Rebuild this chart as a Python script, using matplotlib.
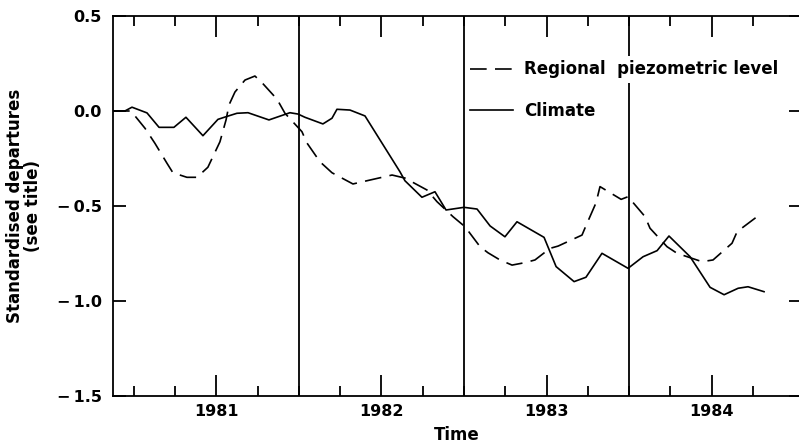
import numpy as np
import matplotlib
matplotlib.use("Agg")
import matplotlib.pyplot as plt
from matplotlib.ticker import FixedLocator, FixedFormatter

# climate series (decimal year, standardised departure)
climate_t = [1980.873, 1980.945, 1980.988, 1981.079, 1981.152, 1981.242, 1981.315,
             1981.418, 1981.509, 1981.558, 1981.624, 1981.691, 1981.818, 1981.945,
             1981.994, 1982.036, 1982.145, 1982.200, 1982.230, 1982.309, 1982.400,
             1982.612, 1982.642, 1982.745, 1982.824, 1982.891, 1983.000, 1983.079,
             1983.158, 1983.248, 1983.321, 1983.485, 1983.558, 1983.667, 1983.739,
             1983.836, 1983.994, 1984.085, 1984.170, 1984.242, 1984.370, 1984.491,
             1984.576, 1984.661, 1984.721, 1984.818]
climate_v = [0.00, 0.00, 0.02, -0.01, -0.086, -0.086, -0.033,
             -0.13, -0.044, -0.03, -0.012, -0.009, -0.047, -0.009,
             -0.016, -0.033, -0.068, -0.038, 0.009, 0.005, -0.026,
             -0.32, -0.367, -0.454, -0.425, -0.521, -0.507, -0.516,
             -0.605, -0.662, -0.583, -0.665, -0.819, -0.898, -0.875,
             -0.749, -0.828, -0.767, -0.735, -0.658, -0.767, -0.928,
             -0.967, -0.933, -0.925, -0.951]

# regional piezometric level
piezo_t = [1980.873, 1980.982, 1981.067, 1981.127, 1981.200, 1981.236, 1981.321,
           1981.382, 1981.448, 1981.521, 1981.558, 1981.576, 1981.612, 1981.673,
           1981.733, 1981.776, 1981.867, 1981.915, 1982.018, 1982.048, 1982.127,
           1982.200, 1982.327, 1982.412, 1982.564, 1982.642, 1982.776, 1982.836,
           1982.933, 1983.006, 1983.097, 1983.145, 1983.218, 1983.291, 1983.370,
           1983.430, 1983.521, 1983.570, 1983.715, 1983.733, 1983.800, 1983.824,
           1983.952, 1983.994, 1984.097, 1984.127, 1984.230, 1984.291, 1984.442,
           1984.509, 1984.624, 1984.655, 1984.776]
piezo_v = [0.00, 0.00, -0.091, -0.17, -0.275, -0.325, -0.349,
           -0.349, -0.296, -0.162, -0.047, 0.032, 0.10, 0.163,
           0.184, 0.149, 0.062, -0.012, -0.109, -0.168, -0.267,
           -0.325, -0.384, -0.367, -0.337, -0.353, -0.416, -0.477,
           -0.556, -0.609, -0.714, -0.746, -0.784, -0.811, -0.798,
           -0.784, -0.723, -0.711, -0.653, -0.616, -0.483, -0.398,
           -0.465, -0.451, -0.556, -0.617, -0.714, -0.749, -0.793,
           -0.784, -0.696, -0.635, -0.556]

year_labels = ["1981", "1982", "1983", "1984"]
year_centres = [1981.5, 1982.5, 1983.5, 1984.5]
year_bounds = [1982.0, 1983.0, 1984.0]
quarters = [1981.0, 1981.25, 1981.75, 1982.0, 1982.25, 1982.75, 1983.0,
            1983.25, 1983.75, 1984.0, 1984.25, 1984.75]
y_ticks = [-1.5, -1.0, -0.5, 0.0, 0.5]
y_labels = ["\u2212\u20091.5", "\u2212\u20091.0", "\u2212\u20090.5", "0.0", "0.5"]

plt.rcParams["font.family"] = "DejaVu Sans"
plt.rcParams["font.weight"] = "bold"
plt.rcParams["lines.scale_dashes"] = False

fig = plt.figure(figsize=(7.99, 4.46), dpi=100)
ax = fig.add_axes([113 / 799, 50 / 446, 688 / 799, 380 / 446])

ax.plot(piezo_t, piezo_v, color="black", lw=1.2, dashes=(12, 6),
        label="Regional  piezometric level")
ax.plot(climate_t, climate_v, color="black", lw=1.2, label="Climate")

# year separators
for b in year_bounds:
    ax.axvline(b, color="black", lw=1.3, zorder=1)

ax.set_xlim(1980.873, 1985.042)
ax.set_ylim(-1.5, 0.5)

ax.xaxis.set_major_locator(FixedLocator(year_centres))
ax.xaxis.set_major_formatter(FixedFormatter(year_labels))
ax.xaxis.set_minor_locator(FixedLocator(quarters))
ax.yaxis.set_major_locator(FixedLocator(y_ticks))
ax.yaxis.set_major_formatter(FixedFormatter(y_labels))

ax.tick_params(which="both", direction="in", top=True, right=True, width=1.3)
ax.tick_params(axis="x", which="major", length=15, pad=6, labelsize=11.5)
ax.tick_params(axis="x", which="minor", length=7.5)
ax.tick_params(axis="y", which="major", length=9, pad=8, labelsize=11.5)

for s in ["left", "bottom", "top"]:
    ax.spines[s].set_linewidth(1.3)
ax.spines["right"].set_visible(False)

ax.set_xlabel("Time", fontsize=12, fontweight="bold", labelpad=5)
ax.set_ylabel("Standardised departures\n(see title)", fontsize=12,
              fontweight="bold", labelpad=11, linespacing=1.0)

leg = ax.legend(loc="center left", bbox_to_anchor=(470 / 799, (446 - 90) / 446),
                bbox_transform=fig.transFigure, frameon=False, fontsize=12,
                handlelength=2.6, handletextpad=0.65, labelspacing=1.4,
                borderpad=0, borderaxespad=0)
leg.get_texts()[0].set_bbox(dict(facecolor="white", edgecolor="none", pad=3))

fig.savefig("out.png", dpi=100)
